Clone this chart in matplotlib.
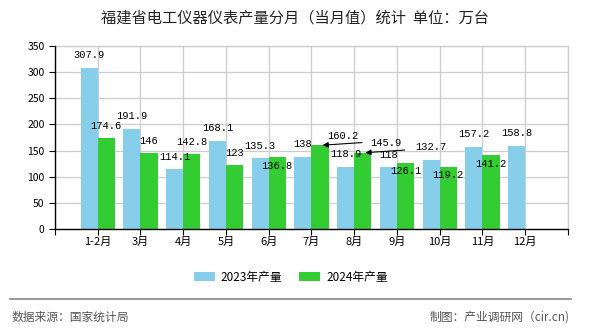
import matplotlib
matplotlib.use('Agg')
import matplotlib.pyplot as plt
import numpy as np

plt.rcParams['font.family'] = ['Noto Sans CJK SC', 'DejaVu Sans']
plt.rcParams['axes.unicode_minus'] = False

# 数据
months = ['1-2月', '3月', '4月', '5月', '6月', '7月', '8月', '9月', '10月', '11月', '12月']
prod_2023 = [307.9, 191.9, 114.1, 168.1, 135.3, 138, 118.9, 118, 132.7, 157.2, 158.8]
prod_2024 = [174.6, 146, 142.8, 123, 136.8, 160.2, 145.9, 126.1, 119.2, 141.2]

# 2024 标签放置方式（上 / 下 / 引线）
pos_2024 = ['up', 'up', 'up', 'up', 'down', 'arrow', 'arrow', 'down', 'down', 'down']

c23 = '#87CEEB'
c24 = '#33CC33'
w = 0.4

fig = plt.figure(figsize=(5.9, 3.3), dpi=100)
ax = fig.add_axes([0.0932, 0.306, 0.8695, 0.555])

x23 = np.arange(len(prod_2023))
x24 = np.arange(len(prod_2024))
ax.bar(x23 - w / 2, prod_2023, width=w, color=c23, label='2023年产量', zorder=2)
ax.bar(x24 + w / 2, prod_2024, width=w, color=c24, label='2024年产量', zorder=2)

lab_font = dict(family=['Liberation Mono', 'DejaVu Sans Mono'], fontsize=7.5, color='black')

for i, v in enumerate(prod_2023):
    ax.text(i - w / 2, v + 24, f'{v:g}', ha='center', va='center', zorder=4, **lab_font)

for i, v in enumerate(prod_2024):
    p = pos_2024[i]
    if p == 'up':
        ax.text(i + w / 2, v + 23, f'{v:g}', ha='center', va='center', zorder=4, **lab_font)
    elif p == 'down':
        ax.text(i + w / 2, v - 16, f'{v:g}', ha='center', va='center', zorder=4, **lab_font)
    else:
        ax.annotate('', xy=(i + 0.26, v), xytext=(i + 1.18, v + 5),
                    arrowprops=dict(arrowstyle='-|>', color='black', lw=0.8,
                                    mutation_scale=8, shrinkA=0, shrinkB=0),
                    zorder=4)
        ax.text(i + 0.74, v + 18, f'{v:g}', ha='center', va='center', zorder=4, **lab_font)

ax.set_xlim(-1, 11)
ax.set_ylim(0, 350)
ax.set_yticks(np.arange(0, 351, 50))
ax.set_xticks(np.arange(-1, 12))
ax.set_xticklabels([''] + months + [''])
ax.tick_params(axis='both', labelsize=7.5, length=4, width=0.8, colors='black')
ax.tick_params(axis='x', labelsize=8, pad=2)
ax.grid(True, color='#cccccc', linewidth=0.9, zorder=0)
ax.set_axisbelow(True)
for s in ['top', 'right']:
    ax.spines[s].set_color('#cccccc')
    ax.spines[s].set_linewidth(0.9)
for s in ['left', 'bottom']:
    ax.spines[s].set_linewidth(1)
    ax.spines[s].set_color('black')
    ax.spines[s].set_zorder(3)

fig.text(0.5, 0.945, '福建省电工仪器仪表产量分月（当月值）统计  单位：万台',
         ha='center', va='center', fontsize=11, color='#222222')

fig.legend(loc='center', bbox_to_anchor=(0.493, 0.16), ncol=2, frameon=False,
           fontsize=8.5, handlelength=1.8, handleheight=0.8, columnspacing=1.4,
           handletextpad=0.5)

fig.add_artist(plt.Line2D([0.017, 0.968], [0.094, 0.094], color='#888888', lw=1.2))
fig.text(0.02, 0.04, '数据来源：国家统计局', ha='left', va='center', fontsize=8.5, color='#555555')
fig.text(0.965, 0.04, '制图：产业调研网（cir.cn)', ha='right', va='center', fontsize=8.5, color='#555555')

fig.savefig('out.png', dpi=100)
